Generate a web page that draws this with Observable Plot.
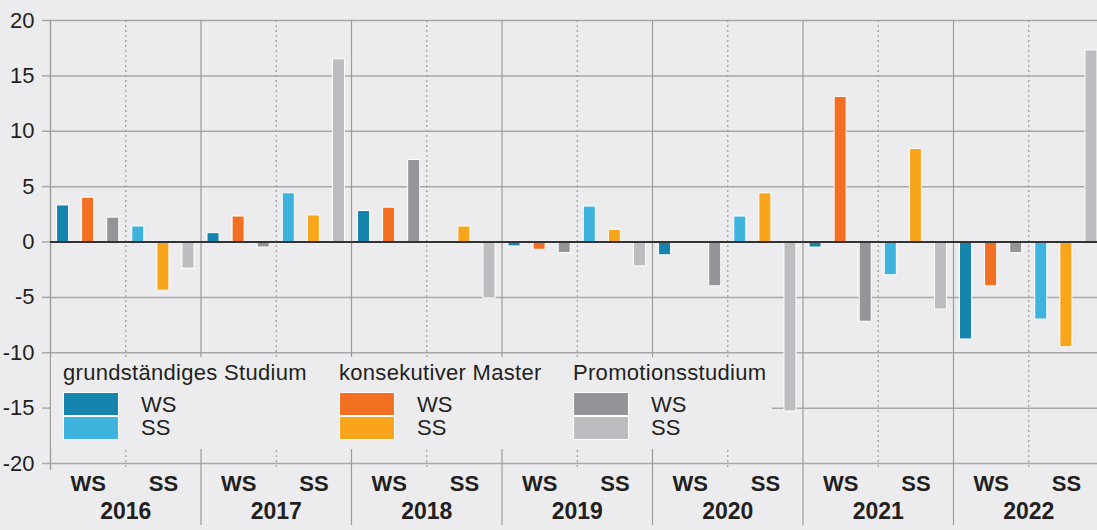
<!DOCTYPE html>
<html>
<head>
<meta charset="utf-8">
<script src="https://cdn.jsdelivr.net/npm/d3@7"></script>
<script src="https://cdn.jsdelivr.net/npm/@observablehq/plot@0.6"></script>
<style>
  html, body { margin: 0; padding: 0; background: #ececee; overflow: hidden; }
  #chart { position: relative; width: 1097px; height: 530px; overflow: hidden; font-family: "Liberation Sans", Arial, sans-serif; color: #231f20; }
  #chart svg { position: absolute; left: 0; top: 0; max-width: none !important; width: 1104px !important; height: 530px !important; }
  #legend { position: absolute; left: 51px; top: 357px; width: 721px; height: 92px; background: #ececee; }
  .grp { position: absolute; top: 0; }
  .grp .title { position: absolute; left: 0; top: 4px; font-size: 22px; letter-spacing: 0.3px; white-space: nowrap; line-height: 24px; }
  .sw { position: absolute; left: 0; width: 56px; height: 24px; box-sizing: border-box; border: 1px solid #fff; }
  .lab { position: absolute; left: 78px; font-size: 22px; line-height: 24px; }
</style>
</head>
<body>
<div id="chart"><div id="legend"></div></div>
<script>
// ---- data ----
const years = [2016, 2017, 2018, 2019, 2020, 2021, 2022];
const semesters = ["WS", "SS"];
const programs = ["grundständiges Studium", "konsekutiver Master", "Promotionsstudium"];

const grundWS  = [3.3, 0.8, 2.8, -0.4, -1.2, -0.5, -8.8];
const grundSS  = [1.4, 4.4, null, 3.2, 2.3, -3.0, -7.0];
const masterWS = [4.0, 2.3, 3.1, -0.7, null, 13.1, -4.0];
const masterSS = [-4.4, 2.4, 1.4, 1.1, 4.4, 8.4, -9.5];
const promoWS  = [2.2, -0.5, 7.4, -1.0, -4.0, -7.2, -1.0];
const promoSS  = [-2.4, 16.5, -5.1, -2.2, -15.3, -6.1, 17.3];

const yTicks = [-20, -15, -10, -5, 0, 5, 10, 15, 20];

const colorsWS = ["#1685ae", "#f36f21", "#939598"];
const colorsSS = ["#3db3de", "#f8a51c", "#bcbdc0"];

// ---- build table ----
const series = { WS: [grundWS, masterWS, promoWS], SS: [grundSS, masterSS, promoSS] };
const rows = [];
years.forEach((yr, i) => {
  semesters.forEach(sem => {
    programs.forEach((prog, p) => {
      rows.push({ key: `${yr} ${sem} ${p}`, year: yr, sem, prog, value: series[sem][p][i], ck: `${prog} ${sem}` });
    });
  });
});
const xDomain = rows.map(d => d.key);
const colorDomain = [], colorRange = [];
programs.forEach((prog, p) => {
  colorDomain.push(`${prog} WS`); colorRange.push(colorsWS[p]);
  colorDomain.push(`${prog} SS`); colorRange.push(colorsSS[p]);
});
const halves = [];
years.forEach(yr => semesters.forEach(sem => halves.push({ year: yr, sem })));

// ---- layout ----
const marginLeft = 50, plotRight = 1103.5;
const W = 1104;
const step = (plotRight - marginLeft) / xDomain.length;
const gridColor = "#a8a8aa";
const lineColor = "#9c9c9e";
const textColor = "#231f20";

const chart = Plot.plot({
  width: W,
  height: 530,
  marginLeft,
  marginRight: W - plotRight,
  marginTop: 20,
  marginBottom: 67,
  style: { background: "transparent", fontFamily: "Liberation Sans, Arial, sans-serif", color: textColor },
  x: { type: "band", domain: xDomain, paddingInner: 0.52, paddingOuter: 0.26, round: false, axis: null },
  y: { domain: [-20, 20], label: null },
  color: { type: "ordinal", domain: colorDomain, range: colorRange },
  marks: [
    Plot.gridY(yTicks, { stroke: gridColor, strokeOpacity: 1, strokeWidth: 1.5 }),
    Plot.axisY(yTicks, { tickSize: 8, tickPadding: 8, tickFormat: d => String(d), fontSize: 22, stroke: gridColor, strokeWidth: 1.5, fill: textColor, label: null }),
    // WS/SS dividers (dotted)
    Plot.ruleX(years, { x: d => `${d} SS 0`, dx: -step / 2, stroke: lineColor, strokeWidth: 1.2, strokeDasharray: "2,3", insetBottom: -7 }),
    // year dividers
    Plot.ruleX(years.slice(0, 1), { x: d => `${d} WS 0`, dx: -step / 2, stroke: lineColor, strokeWidth: 1.4, insetBottom: -7 }),
    Plot.ruleX(years.slice(1), { x: d => `${d} WS 0`, dx: -step / 2, stroke: lineColor, strokeWidth: 1.2, insetBottom: -62 }),
    Plot.barY(rows, { x: "key", y: "value", fill: "ck", stroke: "#ffffff", strokeWidth: 1 }),
    Plot.ruleY([0], { stroke: "#333335", strokeWidth: 2 }),
    Plot.text(halves, { x: d => `${d.year} ${d.sem} 1`, text: "sem", frameAnchor: "bottom", dy: 27, fontSize: 22, fontWeight: "bold", fill: textColor }),
    Plot.text(years, { x: d => `${d} WS 2`, text: d => String(d), dx: step / 2, frameAnchor: "bottom", dy: 55, fontSize: 23, fontWeight: "bold", fill: textColor })
  ]
});
const container = document.getElementById("chart");
container.insertBefore(chart, container.firstChild);

// ---- legend ----
const legend = document.getElementById("legend");
const groupX = [12, 288, 522];
programs.forEach((prog, p) => {
  const g = document.createElement("div");
  g.className = "grp";
  g.style.left = groupX[p] + "px";
  const t = document.createElement("div");
  t.className = "title"; t.textContent = prog;
  g.appendChild(t);
  semesters.forEach((sem, s) => {
    const sw = document.createElement("div");
    sw.className = "sw";
    sw.style.top = (35 + s * 24) + "px";
    sw.style.background = s === 0 ? colorsWS[p] : colorsSS[p];
    g.appendChild(sw);
    const lb = document.createElement("div");
    lb.className = "lab";
    lb.style.top = (36 + s * 23) + "px";
    lb.textContent = sem;
    g.appendChild(lb);
  });
  legend.appendChild(g);
});
</script>
</body>
</html>
